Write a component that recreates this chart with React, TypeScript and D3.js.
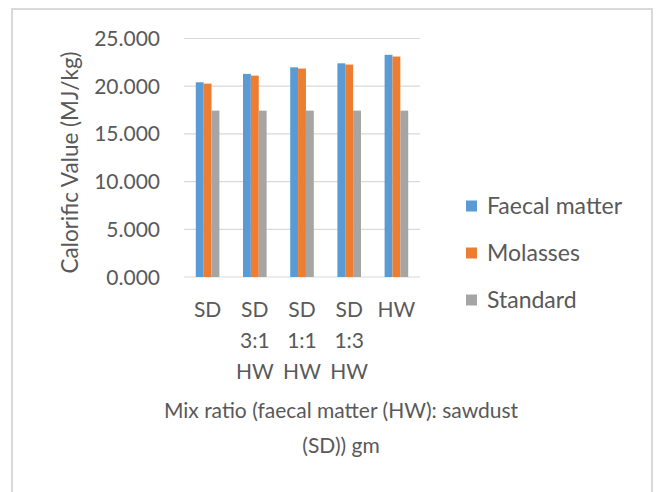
import React from "react";
import * as d3 from "d3";

const categories = [["SD"], ["SD", "3:1", "HW"], ["SD", "1:1", "HW"], ["SD", "1:3", "HW"], ["HW"]];
const seriesNames = ["Faecal matter", "Molasses", "Standard"];
const faecal = [20.41, 21.29, 21.98, 22.4, 23.29];
const molasses = [20.27, 21.11, 21.85, 22.27, 23.11];
const standard = [17.44, 17.44, 17.44, 17.44, 17.44];
const colors = ["#5b9bd5", "#ed7d31", "#a5a5a5"];
const yTicks = [0, 5, 10, 15, 20, 25];
const yTitle = "Calorific Value (MJ/kg)";
const xTitle = ["Mix ratio (faecal matter (HW): sawdust", "(SD)) gm"];

const W = 656, H = 492;
const FONT = "Lato, sans-serif";
const TXT = "#595959";
const FS = 21;

export default function App() {
  const series = [faecal, molasses, standard];
  const x0 = d3.scaleBand<number>().domain(d3.range(categories.length)).range([184, 420]).paddingInner(0.5).paddingOuter(0.25);
  const x1 = d3.scaleBand<number>().domain(d3.range(series.length)).range([0, x0.bandwidth()]);
  const y = d3.scaleLinear().domain([0, 25]).range([277, 38.5]);
  return (
    <svg width={W} height={H} style={{ position: "absolute", left: 0, top: 0 }} fontFamily={FONT}>
      <rect x={0} y={0} width={W} height={H} fill="#fff" />
      <rect x={12} y={9} width={640} height={H} fill="#fff" stroke="#d9d9d9" strokeWidth={2} />
      {yTicks.map((t) => (
        <g key={t}>
          <line x1={184} x2={420} y1={y(t)} y2={y(t)} stroke="#d9d9d9" strokeWidth={1.2} />
          <text x={160} y={y(t)} dy="0.36em" textAnchor="end" fontSize={FS} fill={TXT}>
            {d3.format(".3f")(t)}
          </text>
        </g>
      ))}
      {categories.map((c, i) => (
        <g key={i}>
          {series.map((s, j) => (
            <rect key={j} x={(x0(i) as number) + (x1(j) as number)} width={x1.bandwidth()} y={y(s[i])} height={y(0) - y(s[i])} fill={colors[j]} />
          ))}
          {c.map((l, k) => (
            <text key={k} x={(x0(i) as number) + x0.bandwidth() / 2} y={309 + k * 31} dy="0.36em" textAnchor="middle" fontSize={FS} fill={TXT}>
              {l}
            </text>
          ))}
        </g>
      ))}
      <text transform={`translate(70,162.5) rotate(-90)`} textAnchor="middle" dy="0.36em" fontSize={22.5} fill={TXT}>
        {yTitle}
      </text>
      {xTitle.map((l, k) => (
        <text key={k} x={341} y={410 + k * 35} dy="0.36em" textAnchor="middle" fontSize={FS} fill={TXT}>
          {l}
        </text>
      ))}
      {seriesNames.map((n, j) => (
        <g key={n}>
          <rect x={466} y={206 + j * 47 - 5.5} width={11} height={11} fill={colors[j]} />
          <text x={487} y={206 + j * 47} dy="0.36em" fontSize={23} fill={TXT}>
            {n}
          </text>
        </g>
      ))}
    </svg>
  );
}
